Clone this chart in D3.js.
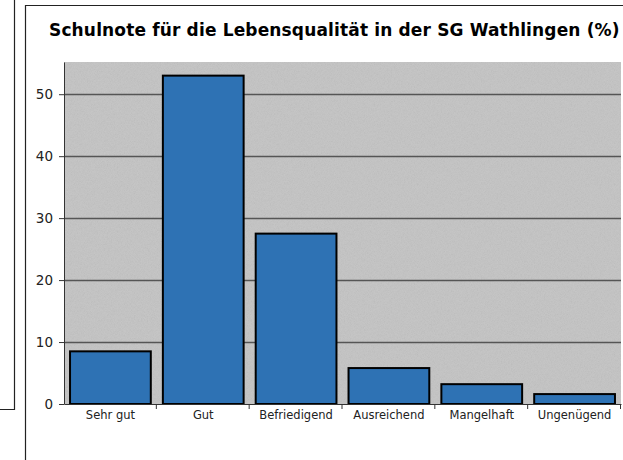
<!DOCTYPE html>
<html>
<head>
<meta charset="utf-8">
<script src="https://cdn.jsdelivr.net/npm/d3@7"></script>
<style>
  body { margin: 0; background: #fff; }
  svg { display: block; }
</style>
</head>
<body>
<svg id="chart" width="623" height="460"></svg>
<script>
const categories = ["Sehr gut", "Gut", "Befriedigend", "Ausreichend", "Mangelhaft", "Ungenügend"];
const values = [8.5, 53, 27.5, 5.8, 3.2, 1.6];
const yTicks = [0, 10, 20, 30, 40, 50];
const title = "Schulnote für die Lebensqualität in der SG Wathlingen (%)";

const svg = d3.select("svg#chart");
const plot = { left: 64, right: 621, top: 62, bottom: 404 };
const font = "DejaVu Sans, Verdana, sans-serif";

// frame lines around the page
svg.append("path")
  .attr("d", "M14.5,0V409.5H0")
  .attr("fill", "none").attr("stroke", "#222").attr("stroke-width", 1.2);
svg.append("path")
  .attr("d", "M25.5,460V5.5H623")
  .attr("fill", "none").attr("stroke", "#222").attr("stroke-width", 1.2);

// grey background with fine grain
const defs = svg.append("defs");
const filter = defs.append("filter").attr("id", "grain");
filter.append("feTurbulence")
  .attr("type", "fractalNoise").attr("baseFrequency", 1.3).attr("numOctaves", 1).attr("seed", 3);
filter.append("feColorMatrix")
  .attr("type", "matrix")
  .attr("values", "1 0 0 0 0  1 0 0 0 0  1 0 0 0 0  0 0 0 0 0.08");
filter.append("feComposite").attr("in2", "SourceGraphic").attr("operator", "in");

svg.append("rect")
  .attr("x", plot.left).attr("y", plot.top)
  .attr("width", plot.right - plot.left).attr("height", plot.bottom - plot.top)
  .attr("fill", "#c3c3c3");
svg.append("rect")
  .attr("x", plot.left).attr("y", plot.top)
  .attr("width", plot.right - plot.left).attr("height", plot.bottom - plot.top)
  .attr("fill", "#c3c3c3").attr("filter", "url(#grain)");

const x = d3.scaleBand().domain(categories).range([plot.left, plot.right]).paddingInner(0.13).paddingOuter(0.065);
const xTick = d3.scaleBand().domain(categories).range([plot.left, plot.right]);
const y = d3.scaleLinear().domain([0, 55.2]).range([plot.bottom, plot.top]);

// gridlines
svg.append("g")
  .selectAll("line")
  .data(yTicks.filter((d) => d > 0))
  .join("line")
  .attr("x1", plot.left).attr("x2", plot.right)
  .attr("y1", (d) => Math.round(y(d)) + 0.5).attr("y2", (d) => Math.round(y(d)) + 0.5)
  .attr("stroke", "#555").attr("stroke-width", 1.5);

// bars
svg.append("g")
  .selectAll("rect")
  .data(values)
  .join("rect")
  .attr("x", (d, i) => x(categories[i]))
  .attr("y", (d) => y(d))
  .attr("width", x.bandwidth())
  .attr("height", (d) => y(0) - y(d))
  .attr("fill", "#2e72b4")
  .attr("stroke", "#000")
  .attr("stroke-width", 2);

// y axis
const yAxis = svg.append("g")
  .attr("transform", `translate(${plot.left},0)`)
  .call(d3.axisLeft(y).tickValues(yTicks).tickSize(5).tickPadding(6).tickSizeOuter(0));
yAxis.select(".domain").attr("stroke", "#333");
yAxis.selectAll(".tick line").attr("stroke", "#333");
yAxis.selectAll("text")
  .attr("font-family", font)
  .attr("font-size", 13.5).attr("fill", "#222");

// x axis
const xAxis = svg.append("g")
  .attr("transform", `translate(0,${plot.bottom})`)
  .call(d3.axisBottom(xTick).tickSize(0).tickPadding(7).tickSizeOuter(0));
xAxis.select(".domain").attr("stroke", "#333");
xAxis.selectAll(".tick text")
  .attr("font-family", font)
  .attr("font-size", 11.5).attr("fill", "#222");
xAxis.append("g")
  .selectAll("line")
  .data(categories.slice(1).concat([null]))
  .join("line")
  .attr("x1", (d) => (d ? xTick(d) : plot.right) - 0.5)
  .attr("x2", (d) => (d ? xTick(d) : plot.right) - 0.5)
  .attr("y1", 0).attr("y2", 5)
  .attr("stroke", "#333");

// title
svg.append("text")
  .attr("x", 49).attr("y", 36)
  .attr("font-family", font)
  .attr("font-weight", "bold")
  .attr("font-size", 17)
  .attr("letter-spacing", 0.15)
  .attr("fill", "#000")
  .text(title);
</script>
</body>
</html>
